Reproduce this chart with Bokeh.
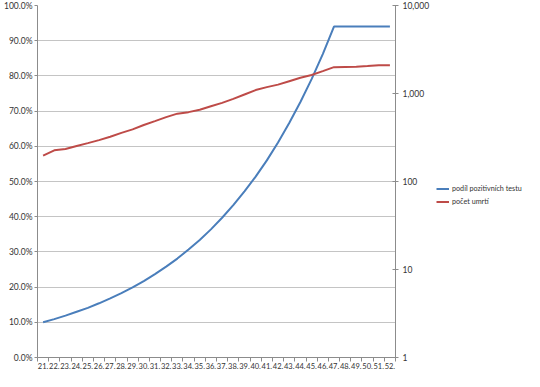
from bokeh.plotting import figure
from bokeh.layouts import row
from bokeh.models import (Range1d, LogScale, LogAxis, FixedTicker, Legend, LegendItem)
from bokeh.embed import file_html
from bokeh.resources import INLINE

weeks = list(range(21, 53))
week_labels = [f"{w}." for w in weeks]

# share of positive tests (percent)
positive_share = [10.0, 10.9, 11.9, 13.0, 14.1, 15.4, 16.8, 18.3, 19.9, 21.7,
                  23.7, 25.8, 28.1, 30.7, 33.4, 36.4, 39.7, 43.3, 47.2, 51.4,
                  56.0, 61.1, 66.6, 72.6, 79.1, 86.2, 94.0, 94.0, 94.0, 94.0,
                  94.0, 94.0]

# number of deaths (log axis)
deaths = [197, 226, 234, 253, 273, 295, 322, 357, 391, 439,
          486, 539, 590, 614, 654, 716, 783, 868, 975, 1094,
          1182, 1261, 1380, 1510, 1622, 1794, 1991, 2003, 2015, 2055,
          2100, 2100]

pct_ticks = [0, 10, 20, 30, 40, 50, 60, 70, 80, 90, 100]
pct_labels = ["0.0%", "10.0%", "20.0%", "30.0%", "40.0%", "50.0%",
              "60.0%", "70.0%", "80.0%", "90.0%", "100.0%"]
log_ticks = [1, 10, 100, 1000, 10000]
log_labels = ["1", "10", "100", "1,000", "10,000"]

series_names = ["podíl pozitivních testu", "počet umrtí"]

BLUE = "#4a7ebb"
RED = "#be4b48"
AXIS = "#8c8c8c"
GRID = "#c4c4c4"
TEXT = "#333333"
FONT = "Lato"

p = figure(width=432, height=371, output_backend="svg", toolbar_location=None,
           x_range=Range1d(20.5, 52.5), y_range=Range1d(0, 100),
           min_border_left=29, min_border_right=35, min_border_top=5,
           min_border_bottom=0)
p.outline_line_color = None
p.background_fill_color = "white"
p.border_fill_color = "white"

p.extra_y_ranges = {"deaths": Range1d(1, 10000)}
p.extra_y_scales = {"deaths": LogScale()}

r_pos = p.line(weeks, positive_share, line_color=BLUE, line_width=2)
r_dth = p.line(weeks, deaths, y_range_name="deaths", line_color=RED, line_width=2)

# x axis
xa = p.xaxis[0]
xa.ticker = FixedTicker(ticks=weeks, minor_ticks=[w - 0.5 for w in weeks] + [52.5])
xa.major_label_overrides = {w: l for w, l in zip(weeks, week_labels)}
xa.major_tick_out = 0
xa.major_tick_in = 0
xa.minor_tick_out = 4
xa.minor_tick_in = 0
xa.minor_tick_line_color = AXIS
xa.axis_line_color = AXIS
xa.major_label_standoff = 1
xa.axis_label_standoff = 0
xa.major_label_text_font = FONT
xa.major_label_text_font_size = "7.5px"
xa.major_label_text_color = TEXT

# left axis
ya = p.yaxis[0]
ya.ticker = FixedTicker(ticks=pct_ticks)
ya.major_label_overrides = {t: l for t, l in zip(pct_ticks, pct_labels)}
ya.major_tick_out = 3
ya.major_tick_in = 0
ya.minor_tick_out = 0
ya.minor_tick_in = 0
ya.axis_line_color = AXIS
ya.major_tick_line_color = AXIS
ya.major_label_standoff = 2
ya.major_label_text_font = FONT
ya.major_label_text_font_size = "8.5px"
ya.major_label_text_color = TEXT

# right log axis
ra = LogAxis(y_range_name="deaths")
ra.ticker = FixedTicker(ticks=log_ticks)
ra.major_label_overrides = {t: l for t, l in zip(log_ticks, log_labels)}
ra.major_tick_out = 3
ra.major_tick_in = 3
ra.minor_tick_out = 0
ra.minor_tick_in = 0
ra.axis_line_color = AXIS
ra.major_tick_line_color = AXIS
ra.major_label_standoff = 4
ra.major_label_text_font = FONT
ra.major_label_text_font_size = "8.5px"
ra.major_label_text_color = TEXT
p.add_layout(ra, "right")

p.xgrid.grid_line_color = None
p.ygrid.ticker = FixedTicker(ticks=pct_ticks)
p.ygrid.grid_line_color = GRID
p.ygrid.grid_line_width = 1

# legend panel (separate figure so that the legend sits outside the plot area)
lg = figure(width=92, height=371, output_backend="svg", toolbar_location=None,
            x_range=Range1d(0, 1), y_range=Range1d(0, 1),
            x_axis_location=None, y_axis_location=None,
            min_border=0)
lg.outline_line_color = None
lg.grid.grid_line_color = None
# single-point lines: they draw nothing in the panel, only feed the legend
g_pos = lg.line([0], [0], line_color=BLUE, line_width=2)
g_dth = lg.line([0], [0], line_color=RED, line_width=2)

legend = Legend(items=[LegendItem(label=series_names[0], renderers=[g_pos]),
                       LegendItem(label=series_names[1], renderers=[g_dth])],
                location=(4, 149), orientation="vertical")
legend.border_line_color = None
legend.background_fill_alpha = 0
legend.label_text_font = FONT
legend.label_text_font_size = "7.2px"
legend.label_text_color = TEXT
legend.glyph_width = 13
legend.glyph_height = 13
legend.label_height = 13
legend.label_standoff = 3
legend.spacing = 0
legend.padding = 0
legend.margin = 0
lg.add_layout(legend, "center")

layout = row(p, lg)
open("out.html", "w").write(file_html(layout, INLINE))
